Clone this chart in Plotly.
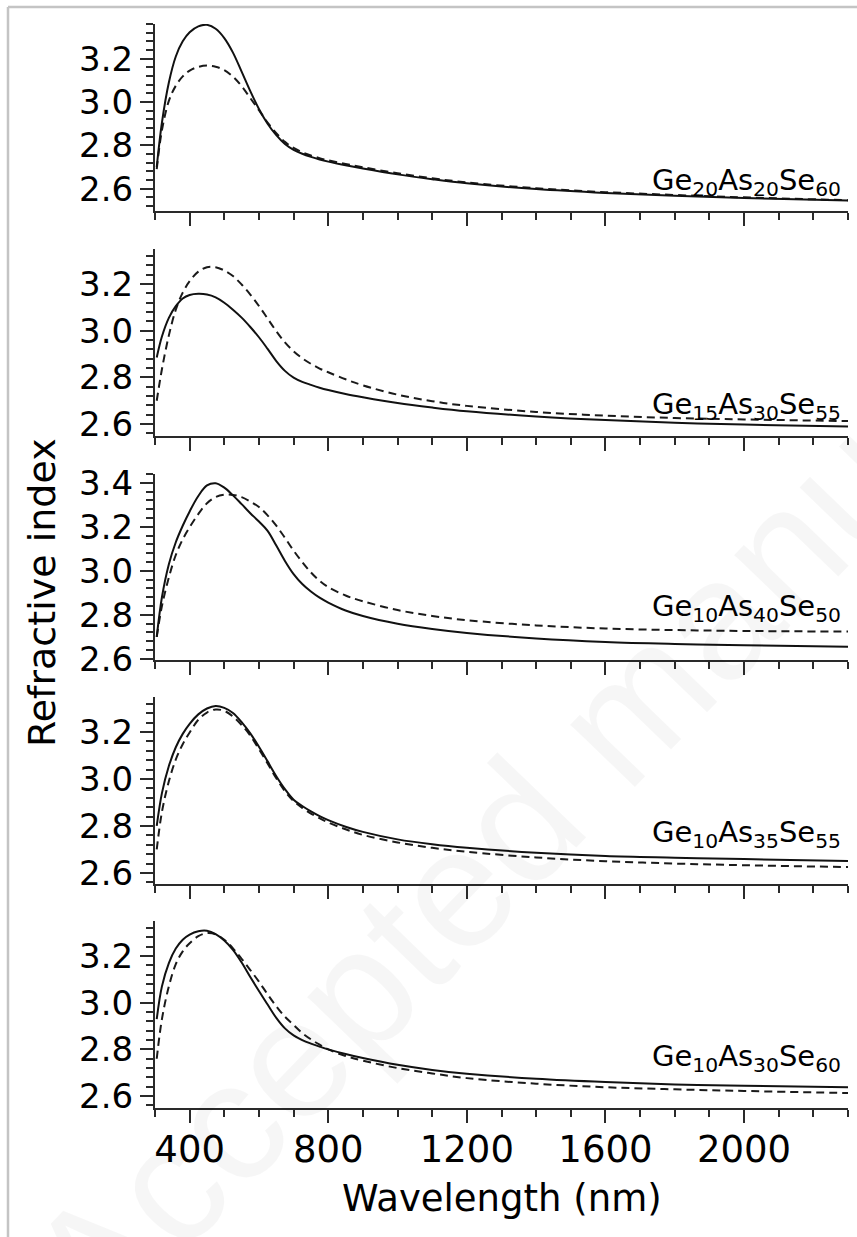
import plotly.graph_objects as go

# ---------------- data ----------------
wavelength = [305, 320, 340, 360, 380, 400, 425, 450, 475, 500, 525, 550, 575, 600, 625, 650,
              675, 700, 725, 750, 775, 800, 850, 900, 1000, 1100, 1200, 1400, 1600, 1800, 2000, 2300]

p1_solid = [2.70, 2.905, 3.09, 3.21, 3.28, 3.322, 3.349, 3.356, 3.338, 3.295, 3.228, 3.14, 3.05, 2.968, 2.90, 2.847,
            2.806, 2.779, 2.761, 2.747, 2.735, 2.725, 2.708, 2.693, 2.666, 2.644, 2.625, 2.598, 2.58, 2.567, 2.557, 2.545]
p1_dash = [2.69, 2.87, 3.005, 3.075, 3.118, 3.145, 3.162, 3.168, 3.163, 3.147, 3.117, 3.073, 3.018, 2.962, 2.905, 2.856,
           2.816, 2.788, 2.768, 2.753, 2.741, 2.731, 2.714, 2.699, 2.671, 2.648, 2.629, 2.602, 2.584, 2.571, 2.56, 2.547]

p2_solid = [2.885, 2.975, 3.055, 3.105, 3.138, 3.153, 3.158, 3.155, 3.143, 3.12, 3.09, 3.056, 3.016, 2.972, 2.922, 2.87,
            2.828, 2.799, 2.781, 2.768, 2.756, 2.746, 2.729, 2.715, 2.69, 2.671, 2.655, 2.633, 2.617, 2.606, 2.598, 2.59]
p2_dash = [2.70, 2.835, 2.98, 3.09, 3.163, 3.212, 3.253, 3.272, 3.272, 3.258, 3.234, 3.198, 3.155, 3.106, 3.052, 2.998,
           2.95, 2.912, 2.882, 2.858, 2.838, 2.822, 2.792, 2.766, 2.726, 2.698, 2.678, 2.652, 2.636, 2.626, 2.62, 2.613]

p3_solid = [2.70, 2.88, 3.03, 3.13, 3.205, 3.27, 3.34, 3.388, 3.398, 3.378, 3.343, 3.303, 3.262, 3.224, 3.182, 3.115,
            3.045, 2.985, 2.94, 2.906, 2.878, 2.856, 2.82, 2.795, 2.76, 2.736, 2.718, 2.693, 2.677, 2.668, 2.662, 2.655]
p3_dash = [2.70, 2.84, 2.97, 3.072, 3.143, 3.198, 3.258, 3.307, 3.335, 3.346, 3.345, 3.335, 3.315, 3.29, 3.252, 3.205,
           3.15, 3.092, 3.04, 2.993, 2.955, 2.926, 2.888, 2.862, 2.822, 2.795, 2.776, 2.752, 2.738, 2.731, 2.727, 2.724]

p4_solid = [2.80, 2.94, 3.055, 3.135, 3.192, 3.235, 3.275, 3.30, 3.311, 3.303, 3.281, 3.242, 3.194, 3.137, 3.075, 3.012,
            2.957, 2.912, 2.885, 2.862, 2.842, 2.825, 2.797, 2.775, 2.743, 2.722, 2.707, 2.686, 2.672, 2.665, 2.659, 2.651]
p4_dash = [2.70, 2.86, 2.99, 3.083, 3.148, 3.198, 3.252, 3.283, 3.296, 3.29, 3.266, 3.23, 3.185, 3.127, 3.066, 3.003,
           2.948, 2.906, 2.877, 2.853, 2.833, 2.815, 2.786, 2.762, 2.73, 2.707, 2.69, 2.666, 2.65, 2.64, 2.633, 2.625]

p5_solid = [2.93, 3.07, 3.17, 3.232, 3.27, 3.292, 3.306, 3.308, 3.294, 3.266, 3.226, 3.172, 3.11, 3.05, 2.992, 2.935,
            2.89, 2.86, 2.84, 2.825, 2.812, 2.80, 2.78, 2.763, 2.734, 2.712, 2.696, 2.674, 2.66, 2.65, 2.644, 2.638]
p5_dash = [2.76, 2.93, 3.07, 3.165, 3.22, 3.255, 3.285, 3.298, 3.293, 3.27, 3.233, 3.188, 3.14, 3.09, 3.036, 2.985,
           2.94, 2.905, 2.87, 2.843, 2.82, 2.80, 2.772, 2.752, 2.72, 2.697, 2.677, 2.653, 2.638, 2.629, 2.622, 2.613]

solid_series = [p1_solid, p2_solid, p3_solid, p4_solid, p5_solid]
dash_series = [p1_dash, p2_dash, p3_dash, p4_dash, p5_dash]

labels = [
    "Ge<sub>20</sub>As<sub>20</sub>Se<sub>60</sub>",
    "Ge<sub>15</sub>As<sub>30</sub>Se<sub>55</sub>",
    "Ge<sub>10</sub>As<sub>40</sub>Se<sub>50</sub>",
    "Ge<sub>10</sub>As<sub>35</sub>Se<sub>55</sub>",
    "Ge<sub>10</sub>As<sub>30</sub>Se<sub>60</sub>",
]

y_ranges = [[2.497, 3.36], [2.549, 3.35], [2.595, 3.44], [2.553, 3.349], [2.549, 3.35]]
y_tickvals = [[2.6, 2.8, 3.0, 3.2], [2.6, 2.8, 3.0, 3.2], [2.6, 2.8, 3.0, 3.2, 3.4],
              [2.6, 2.8, 3.0, 3.2], [2.6, 2.8, 3.0, 3.2]]
x_tickvals = [400, 800, 1200, 1600, 2000]
x_range = [300, 2300]

x_title = "Wavelength (nm)"
y_title = "Refractive index"
watermark = "Accepted manuscript"

# ---------------- layout geometry ----------------
W, H = 857, 1237
ML, MR, MT, MB = 155, 9, 24, 129
PW = W - ML - MR
PH = H - MT - MB
panel_px = [(24, 211), (249, 436), (474, 660), (697, 884), (921, 1108)]
label_px = [182, 406, 608, 834, 1058]

def py2paper(py):
    return (H - MB - py) / PH

def px2paper(px):
    return (px - ML) / PW

FONT = "DejaVu Sans"
AX_COL = "#2a2a2a"

fig = go.Figure()
layout = dict(
    width=W, height=H,
    margin=dict(l=ML, r=MR, t=MT, b=MB),
    paper_bgcolor="white", plot_bgcolor="white",
    showlegend=False,
    font=dict(family=FONT, color="black"),
    annotations=[], shapes=[],
)

for i in range(5):
    n = i + 1
    xa = "x" if n == 1 else f"x{n}"
    ya = "y" if n == 1 else f"y{n}"
    top, bot = panel_px[i]
    fig.add_trace(go.Scatter(x=wavelength, y=dash_series[i], mode="lines", xaxis=xa, yaxis=ya,
                             line=dict(color="#1a1a1a", width=2, dash="8px,5px", shape="spline", smoothing=1.0)))
    fig.add_trace(go.Scatter(x=wavelength, y=solid_series[i], mode="lines", xaxis=xa, yaxis=ya,
                             line=dict(color="#111111", width=2, shape="spline", smoothing=1.0)))
    xkey = "xaxis" if n == 1 else f"xaxis{n}"
    ykey = "yaxis" if n == 1 else f"yaxis{n}"
    layout[xkey] = dict(
        domain=[0, 1], anchor=ya, range=x_range,
        showline=True, linecolor=AX_COL, linewidth=2,
        ticks="outside", ticklen=13, tickwidth=2, tickcolor=AX_COL,
        tickvals=x_tickvals, showticklabels=(n == 5),
        tickfont=dict(family=FONT, size=37, color="black"),
        ticklabelstandoff=-5,
        minor=dict(dtick=100, tick0=300, ticks="outside", ticklen=7, tickwidth=2, tickcolor=AX_COL),
        showgrid=False, zeroline=False, fixedrange=True,
    )
    layout[ykey] = dict(
        domain=[py2paper(bot), py2paper(top)], anchor=xa, range=y_ranges[i],
        showline=True, linecolor=AX_COL, linewidth=2,
        ticks="outside", ticklen=13, tickwidth=2, tickcolor=AX_COL,
        tickvals=y_tickvals[i], ticktext=[f"{v:.1f}" for v in y_tickvals[i]],
        tickfont=dict(family=FONT, size=34, color="black"),
        minor=dict(dtick=0.04, tick0=2.6, ticks="outside", ticklen=7, tickwidth=2, tickcolor=AX_COL),
        showgrid=False, zeroline=False, fixedrange=True,
    )
    layout["annotations"].append(dict(
        text=labels[i], xref="paper", yref="paper",
        x=px2paper(843), y=py2paper(label_px[i]), xanchor="right", yanchor="middle",
        showarrow=False, font=dict(family=FONT, size=29, color="black"),
    ))

# axis titles
layout["annotations"].append(dict(
    text=x_title, xref="paper", yref="paper", x=0.5, y=py2paper(1198),
    xanchor="center", yanchor="middle", showarrow=False,
    font=dict(family=FONT, size=37, color="black"),
))
layout["annotations"].append(dict(
    text=y_title, xref="paper", yref="paper", x=px2paper(42), y=py2paper(592),
    xanchor="center", yanchor="middle", textangle=-90, showarrow=False,
    font=dict(family=FONT, size=38, color="black"),
))
# very faint watermark
layout["annotations"].append(dict(
    text=watermark, xref="paper", yref="paper", x=px2paper(610), y=py2paper(728),
    xanchor="center", yanchor="middle", textangle=-46, showarrow=False,
    font=dict(family="Liberation Sans", size=170, color="rgba(0,0,0,0.035)"),
))

# light gray frame (left and top edges)
layout["shapes"] = [
    dict(type="line", xref="paper", yref="paper", x0=px2paper(8), x1=px2paper(870),
         y0=py2paper(7), y1=py2paper(7), line=dict(color="#c4c4c4", width=2.5)),
    dict(type="line", xref="paper", yref="paper", x0=px2paper(8), x1=px2paper(8),
         y0=py2paper(7), y1=py2paper(1250), line=dict(color="#c4c4c4", width=2.5)),
]

fig.update_layout(**layout)
fig.write_html("out.html")
